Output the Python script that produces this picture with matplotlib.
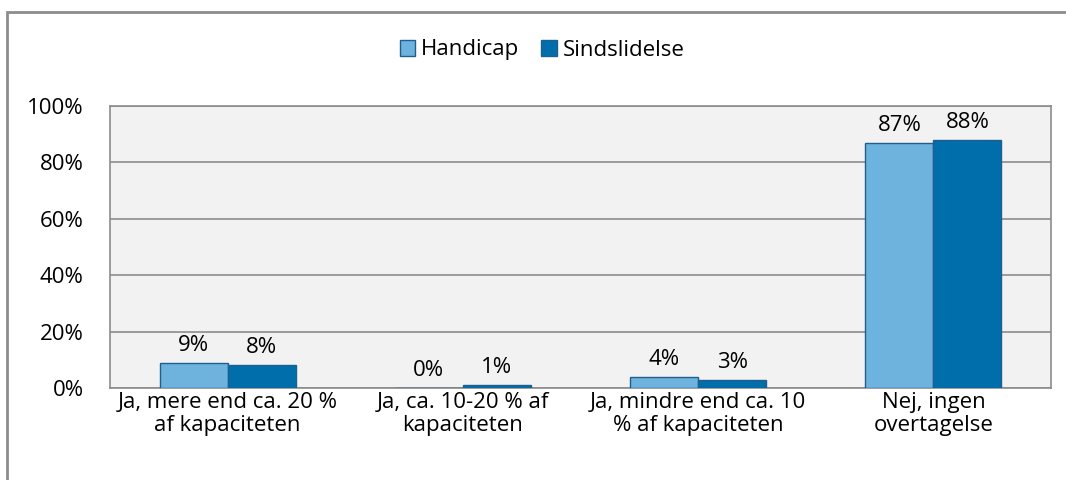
import matplotlib.pyplot as plt
import matplotlib.patches as mpatches
import numpy as np

plt.rcParams['font.family'] = ['Open Sans', 'DejaVu Sans']
plt.rcParams['font.size'] = 16

categories = ['Ja, mere end ca. 20 %\naf kapaciteten',
              'Ja, ca. 10-20 % af\nkapaciteten',
              'Ja, mindre end ca. 10\n% af kapaciteten',
              'Nej, ingen\novertagelse']
handicap = [9, 0, 4, 87]
sindslidelse = [8, 1, 3, 88]
series_names = ['Handicap', 'Sindslidelse']

x = np.arange(len(categories))
w = 0.289

fig = plt.figure(figsize=(10.66, 4.8), dpi=100)
ax = fig.add_axes([0.1032, 0.1917, 0.8828, 0.5873])
ax.set_facecolor('#F2F2F2')

b1 = ax.bar(x - w / 2, handicap, w, color='#6DB3DE', edgecolor='#1F5F8F',
            linewidth=1, label=series_names[0], zorder=3)
b2 = ax.bar(x + w / 2, sindslidelse, w, color='#006EAB', edgecolor='#1F5F8F',
            linewidth=1, label=series_names[1], zorder=3)

for bars in (b1, b2):
    ax.bar_label(bars, labels=[f'{v:.0f}%' for v in bars.datavalues],
                 padding=5, fontsize=16)

ax.set_xlim(-0.5, 3.5)
ax.set_ylim(0, 100)
ax.set_yticks(np.arange(0, 101, 20))
ax.set_yticklabels([f'{v}%' for v in range(0, 101, 20)])
ax.set_xticks(x)
ax.set_xticklabels(categories, linespacing=1.1)
ax.tick_params(length=0)
ax.tick_params(axis='x', pad=3)
ax.tick_params(axis='y', pad=19)
ax.yaxis.grid(True, color='#8C8C8C', linewidth=1.2, zorder=0)
for s in ax.spines.values():
    s.set_color('#8C8C8C')
    s.set_linewidth(1.2)

fig.legend(handles=[b1, b2], loc='center', bbox_to_anchor=(542 / 1066, 1 - 50 / 480),
           ncol=2, frameon=False, handlelength=0.7, handleheight=0.7,
           handletextpad=0.25, columnspacing=1.0, fontsize=16)

fig.patches.append(mpatches.Rectangle((7 / 1066, -0.1), 1.2, 0.1 + (1 - 12 / 480),
                                      transform=fig.transFigure, fill=False,
                                      edgecolor='#8C8C8C', linewidth=2))

fig.savefig('out.png', dpi=100)
